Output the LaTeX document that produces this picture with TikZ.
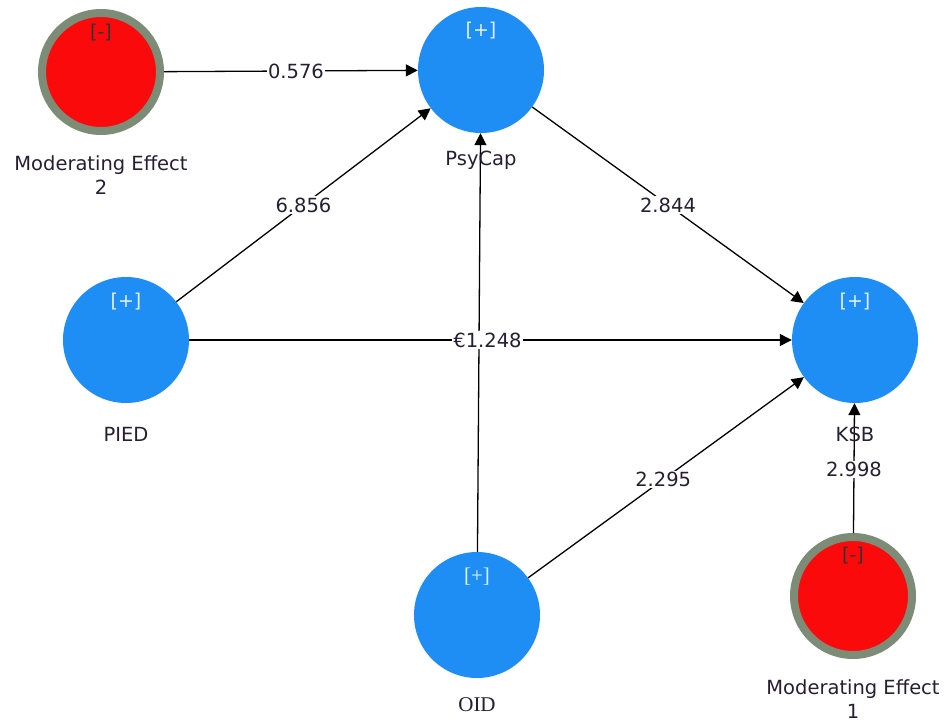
\documentclass[tikz,border=0pt]{standalone}
\usepackage{fontspec}
\setmainfont{DejaVu Sans}
\newfontfamily\oidfont{Liberation Serif}
\usetikzlibrary{arrows.meta}
\definecolor{lvblue}{RGB}{30,142,245}
\definecolor{modred}{RGB}{250,10,10}
\definecolor{modring}{RGB}{125,140,118}
\definecolor{labelink}{RGB}{40,30,50}
\begin{document}
\begin{tikzpicture}[x=1pt,y=-1pt,
  latent/.style={circle,fill=lvblue,minimum size=126pt,inner sep=0pt},
  moderator/.style={circle,fill=modred,draw=modring,line width=8pt,minimum size=118pt,inner sep=0pt},
  cname/.style={font=\fontsize{19.5}{24}\selectfont,text=labelink,align=center},
  plus/.style={font=\fontsize{19}{21}\selectfont,text=white!88!lvblue},
  minus/.style={font=\fontsize{19}{21}\selectfont,text=black!80},
  pathline/.style={line width=1.3pt,-{Triangle[length=12pt,width=12pt]}},
  coef/.style={fill=white,inner sep=1.5pt,font=\fontsize{19.5}{22}\selectfont,text=labelink}]
\useasboundingbox (0,0) rectangle (948,725);
\fill[white] (0,0) rectangle (948,725);

% constructs
\node[moderator] (me2) at (101,72) {};
\node[latent] (psy) at (481,70) {};
\node[latent] (pied) at (126,340) {};
\node[latent] (ksb) at (855,340) {};
\node[latent] (oid) at (477,615) {};
\node[moderator] (me1) at (853,596) {};

% box markers
\node[minus] (me2m) at (101,33) {[-]};
\node[plus] (psym) at (481,31) {[+]};
\node[plus] (piedm) at (126,302) {[+]};
\node[plus] (ksbm) at (855,302) {[+]};
\node[plus,font=\oidfont\fontsize{21}{23}\selectfont] (oidm) at (477,577) {[+]};
\node[minus] (me1m) at (853,556) {[-]};

% structural paths
\draw[pathline] (me2) -- (psy) node[coef,pos=0.52] (c1) {0.576};
\draw[pathline] (pied) -- (psy) node[coef,pos=0.5] (c2) {6.856};
\draw[pathline] (psy) -- (ksb) node[coef,pos=0.5] (c3) {2.844};
\draw[pathline] (oid) -- (psy);
\draw[pathline] (pied) -- (ksb) node[coef,pos=0.495] (c4) {€1.248};
\draw[pathline] (oid) -- (ksb) node[coef,pos=0.49] (c5) {2.295};
\draw[pathline] (me1) -- (ksb) node[coef,pos=0.49] (c6) {2.998};

% construct names
\node[cname] (psyl) at (481,160) {PsyCap};
\node[cname] (piedl) at (126,434) {PIED};
\node[cname] (ksbl) at (855,434) {KSB};
\node[cname,font=\oidfont\fontsize{21}{23}\selectfont] (oidl) at (477,705) {OID};
\node[cname] (me2l) at (101,175) {Moderating Effect\\2};
\node[cname] (me1l) at (853,699) {Moderating Effect\\1};
\end{tikzpicture}
\end{document}
